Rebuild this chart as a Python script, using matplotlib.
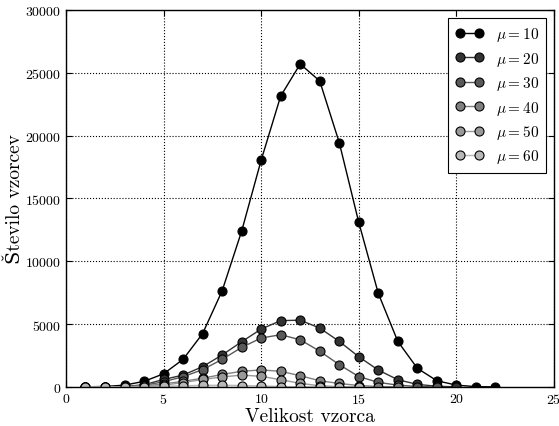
import matplotlib
matplotlib.use('Agg')
import matplotlib.pyplot as plt

plt.rcParams['font.family'] = ['cmr10', 'DejaVu Serif']
plt.rcParams['mathtext.fontset'] = 'cm'
plt.rcParams['axes.formatter.use_mathtext'] = True

# velikost vzorca
x = list(range(1, 23))

# stevilo vzorcev za posamezne mu
mu10 = [20, 40, 150, 450, 1050, 2200, 4250, 7650, 12400, 18050, 23150, 25700,
        24350, 19450, 13100, 7450, 3630, 1490, 500, 150, 30, 10]
mu20 = [5, 10, 40, 180, 600, 950, 1620, 2550, 3600, 4610, 5280, 5320,
        4690, 3630, 2410, 1350, 580, 210, 60, 15]
mu30 = [3, 8, 30, 130, 420, 820, 1380, 2200, 3150, 3900, 4160, 3760,
        2850, 1780, 830, 370, 150, 40, 10]
mu40 = [2, 5, 20, 80, 250, 450, 700, 1000, 1250, 1360, 1250, 900,
        500, 280, 120, 40, 10]
mu50 = [1, 4, 15, 60, 150, 350, 600, 800, 950, 850, 580, 290,
        100, 30, 8]
mu60 = [1, 2, 8, 30, 60, 100, 130, 140, 120, 80, 40, 15, 5, 2, 1]

series = [
    (mu10, r'$\mu = 10$', '0.0'),
    (mu20, r'$\mu = 20$', '0.2'),
    (mu30, r'$\mu = 30$', '0.35'),
    (mu40, r'$\mu = 40$', '0.5'),
    (mu50, r'$\mu = 50$', '0.6'),
    (mu60, r'$\mu = 60$', '0.72'),
]

fig = plt.figure(figsize=(5.59, 4.27), dpi=100)
ax = fig.add_axes([0.118, 0.0913, 0.873, 0.883])

for vals, label, col in series:
    ax.plot(x[:len(vals)], vals, '-o', color=col, mfc=col, mec='k', mew=0.8,
            ms=6.5, lw=1, label=label)

ax.set_xlim(0, 25)
ax.set_ylim(0, 30000)
ax.set_xticks([0, 5, 10, 15, 20, 25])
ax.set_yticks(range(0, 30001, 5000))
ax.grid(True, linestyle=':', color='k', lw=0.8)
ax.tick_params(direction='in', top=True, right=True, labelsize=10, length=4)
for s in ax.spines.values():
    s.set_linewidth(1.0)

ax.set_xlabel('Velikost vzorca', fontsize=14, labelpad=1)
ax.set_ylabel('Število vzorcev', fontsize=14, labelpad=1)

leg = ax.legend(loc='upper right', numpoints=2, fancybox=False, framealpha=1,
                edgecolor='k', fontsize=11, handlelength=1.8,
                borderaxespad=0.5, labelspacing=0.42, borderpad=0.5)
leg.get_frame().set_linewidth(0.8)

fig.savefig('out.png', dpi=100)
